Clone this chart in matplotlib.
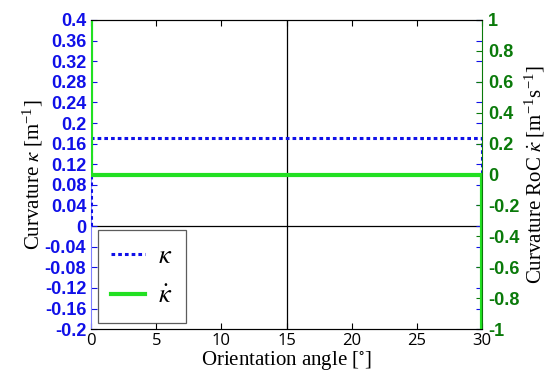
import matplotlib
matplotlib.use("Agg")
import matplotlib.pyplot as plt

# =====================================
# DATA
# =====================================
angle = [0, 0, 30, 30]
kappa = [0, 0.17, 0.17, 0]
kappa_dot = [1, 0, 0, -1]

left_ticks = [-0.2, -0.16, -0.12, -0.08, -0.04, 0, 0.04, 0.08, 0.12,
              0.16, 0.2, 0.24, 0.28, 0.32, 0.36, 0.4]
left_labels = ["-0.2", "-0.16", "-0.12", "-0.08", "-0.04", "0", "0.04",
               "0.08", "0.12", "0.16", "0.2", "0.24", "0.28", "0.32",
               "0.36", "0.4"]
right_ticks = [-1, -0.8, -0.6, -0.4, -0.2, 0, 0.2, 0.4, 0.6, 0.8, 1]
right_labels = ["-1", "-0.8", "-0.6", "-0.4", "-0.2", "0", "0.2", "0.4",
                "0.6", "0.8", "1"]
x_ticks = [0, 5, 10, 15, 20, 25, 30]

BLUE = "#1010e8"
DGREEN = "#0a7a0a"
LGREEN = "#22e022"

plt.rcParams["mathtext.fontset"] = "stix"

fig = plt.figure(figsize=(5.5, 3.77), dpi=100)
ax = fig.add_axes([0.1655, 0.127, 0.711, 0.82])
ax2 = ax.twinx()

# reference lines
ax.axhline(0, color="black", lw=0.9, zorder=1)
ax.axvline(15, color="black", lw=0.9, zorder=1)

l1, = ax.plot(angle, kappa, ls=(0, (1.2, 1.0)), color=BLUE, lw=2.2,
              label=r"$\kappa$", zorder=3)
l2, = ax2.plot(angle, kappa_dot, color=LGREEN, lw=3, label=r"$\dot{\kappa}$")

ax.set_xlim(0, 30)
ax.set_ylim(-0.2, 0.4)
ax2.set_ylim(-1, 1)

ax.set_xticks(x_ticks)
ax.set_xticklabels([str(t) for t in x_ticks], fontfamily="Open Sans",
                   fontsize=12)
ax.set_yticks(left_ticks)
ax.set_yticklabels(left_labels, fontfamily="Liberation Sans",
                   fontweight="bold", fontsize=13, color=BLUE)
ax2.set_yticks(right_ticks)
ax2.set_yticklabels(right_labels, fontfamily="Liberation Sans",
                    fontweight="bold", fontsize=13, color=DGREEN)

ax.tick_params(axis="x", direction="in", length=4, top=True, pad=3)
ax.tick_params(axis="y", direction="in", length=4, color=BLUE, right=True,
               pad=3.5)
ax2.tick_params(axis="y", direction="in", length=4, color=DGREEN, pad=4.5)

ax.spines["left"].set_color("#8080ff")
ax2.spines["left"].set_visible(False)
ax2.spines["right"].set_color(DGREEN)
ax.spines["right"].set_visible(False)
ax.spines["bottom"].set_color("#333333")

ax.set_xlabel("Orientation angle [$^{\\circ}$]", fontfamily="Liberation Serif",
              fontsize=15, labelpad=0)
ax.set_ylabel(r"Curvature $\kappa$ [m$^{\mathregular{-1}}$]",
              fontfamily="Liberation Serif", fontsize=15, labelpad=0)
ax2.set_ylabel(r"Curvature RoC $\dot{\kappa}$ [m$^{\mathregular{-1}}$s$^{\mathregular{-1}}$]",
               fontfamily="Liberation Serif", fontsize=15, labelpad=2)

leg = ax.legend(handles=[l1, l2], loc="lower left", fontsize=19,
                frameon=True, fancybox=False, edgecolor="#333333",
                handlelength=1.3, handletextpad=0.5, borderpad=0.5,
                borderaxespad=0.25, labelspacing=0.55)
leg.get_frame().set_linewidth(0.9)

fig.savefig("out.png", dpi=100)
